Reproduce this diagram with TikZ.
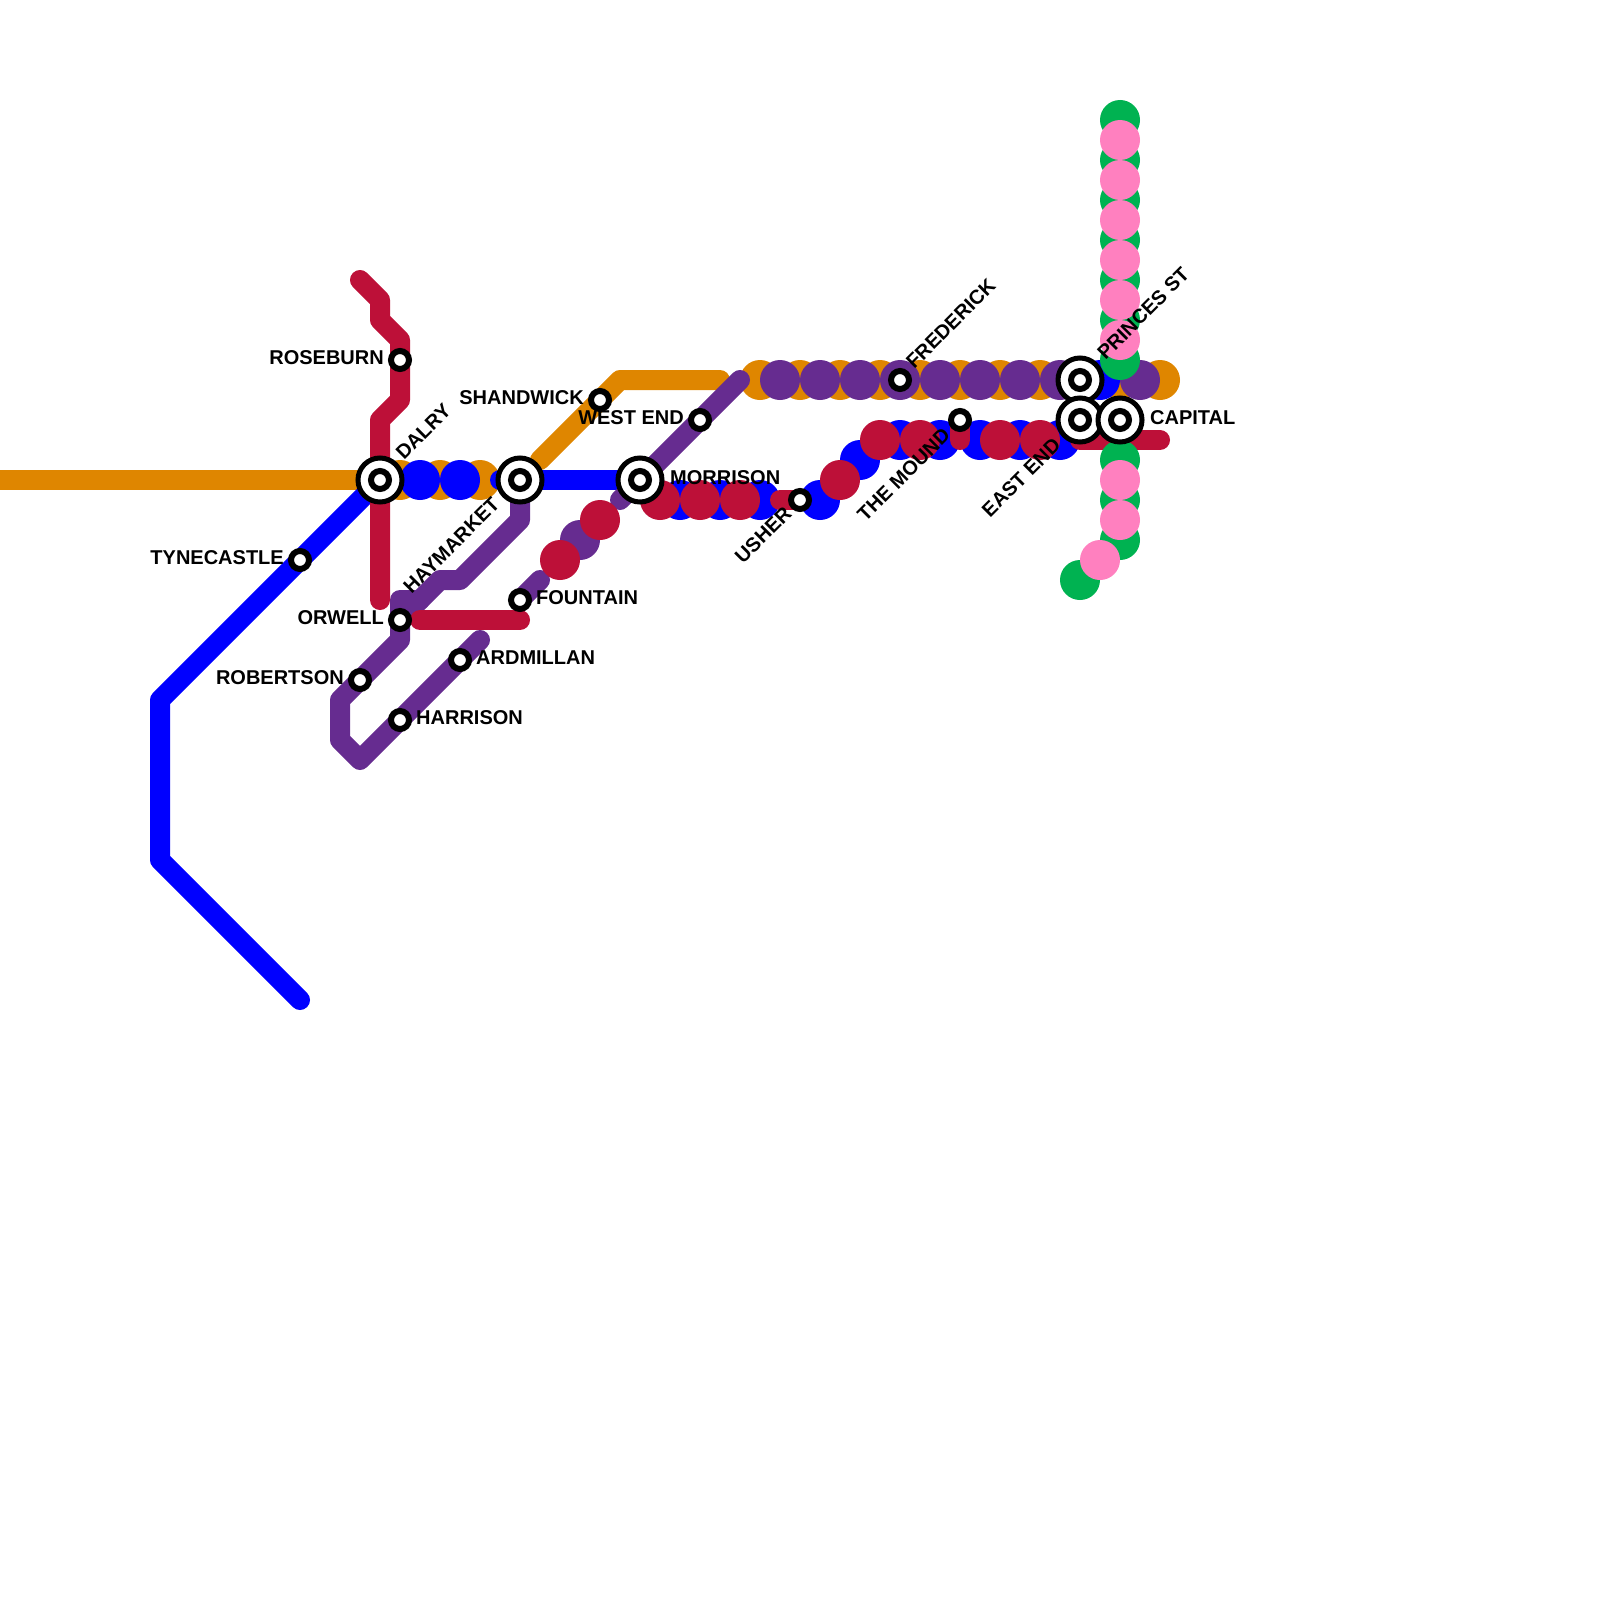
\documentclass[tikz,border=0pt]{standalone}
\usepackage{fontspec}
\setmainfont{Liberation Sans}
\usetikzlibrary{calc}
\usetikzlibrary{backgrounds}
\definecolor{lineorange}{HTML}{DF8600}
\definecolor{lineblue}{HTML}{0000FF}
\definecolor{linepurple}{HTML}{662C90}
\definecolor{linered}{HTML}{BD1038}
\definecolor{linegreen}{HTML}{00B251}
\definecolor{linepink}{HTML}{FF80BF}
\tikzset{
  rail/.style={line width=20pt,line cap=round,line join=round},
  disc/.style={circle,inner sep=0pt,minimum size=40pt,fill=#1},
  stop/.style={circle,draw=black,fill=white,line width=6pt,inner sep=0pt,minimum size=18pt},
  hub/.style={circle,draw=black,fill=white,line width=5pt,inner sep=0pt,minimum size=44pt},
  stopname/.style={inner sep=0pt,font=\fontsize{20}{22}\selectfont\bfseries},
}
\begin{document}
\begin{tikzpicture}
\def\u{20pt}
\useasboundingbox (0, 0) rectangle (80*\u, -80*\u);

\node[hub] (dalry) at (19*\u, -24*\u) {} node[stop] (dalryc) at (dalry) {};
\node[hub] (haymarket) at (26*\u, -24*\u) {} node[stop] (haymarketc) at (haymarket) {};
\node[hub] (morrison) at (32*\u, -24*\u) {} node[stop] (morrisonc) at (morrison) {};
\node[hub] (princes) at (54*\u, -19*\u) {} node[stop] (princesc) at (princes) {};
\node[hub] (eastend) at (54*\u, -21*\u) {} node[stop] (eastendc) at (eastend) {};
\node[hub] (capital) at (56*\u, -21*\u) {} node[stop] (capitalc) at (capital) {};
\node[stop] (roseburn) at (20*\u, -18*\u) {};
\node[stop] (tynecastle) at (15*\u, -28*\u) {};
\node[stop] (orwell) at (20*\u, -31*\u) {};
\node[stop] (robertson) at (18*\u, -34*\u) {};
\node[stop] (harrison) at (20*\u, -36*\u) {};
\node[stop] (ardmillan) at (23*\u, -33*\u) {};
\node[stop] (fountain) at (26*\u, -30*\u) {};
\node[stop] (shandwick) at (30*\u, -20*\u) {};
\node[stop] (westend) at (35*\u, -21*\u) {};
\node[stop] (usher) at (40*\u, -25*\u) {};
\node[stop] (frederick) at (45*\u, -19*\u) {};
\node[stop] (mound) at (48*\u, -21*\u) {};

\node[stopname,anchor=east] (roseburnl) at ($(roseburn) + (-0.8*\u, 0.13*\u)$) {ROSEBURN};
\node[stopname,anchor=east] (tynecastlel) at ($(tynecastle) + (-0.8*\u, 0.13*\u)$) {TYNECASTLE};
\node[stopname,anchor=east] (orwelll) at ($(orwell) + (-0.8*\u, 0.13*\u)$) {ORWELL};
\node[stopname,anchor=east] (robertsonl) at ($(robertson) + (-0.8*\u, 0.13*\u)$) {ROBERTSON};
\node[stopname,anchor=east] (shandwickl) at ($(shandwick) + (-0.8*\u, 0.13*\u)$) {SHANDWICK};
\node[stopname,anchor=east] (westendl) at ($(westend) + (-0.8*\u, 0.13*\u)$) {WEST END};
\node[stopname,anchor=west] (harrisonl) at ($(harrison) + (0.8*\u, 0.13*\u)$) {HARRISON};
\node[stopname,anchor=west] (ardmillanl) at ($(ardmillan) + (0.8*\u, 0.13*\u)$) {ARDMILLAN};
\node[stopname,anchor=west] (fountainl) at ($(fountain) + (0.8*\u, 0.13*\u)$) {FOUNTAIN};
\node[stopname,anchor=west] (morrisonl) at ($(morrison) + (1.5*\u, 0.13*\u)$) {MORRISON};
\node[stopname,anchor=west] (capitall) at ($(capital) + (1.5*\u, 0.13*\u)$) {CAPITAL};
\node[stopname,anchor=west,rotate=45] (dalryl) at ($(dalry) + (0.95*\u, 1.2*\u)$) {DALRY};
\node[stopname,anchor=west,rotate=45] (princesl) at ($(princes) + (1.03*\u, 1.2*\u)$) {PRINCES ST};
\node[stopname,anchor=west,rotate=45] (frederickl) at ($(frederick) + (0.47*\u, 0.75*\u)$) {FREDERICK};
\node[stopname,anchor=east,rotate=45] (haymarketl) at ($(haymarket) + (-1.2*\u, -1.03*\u)$) {HAYMARKET};
\node[stopname,anchor=east,rotate=45] (eastendl) at ($(eastend) + (-1.15*\u, -1.08*\u)$) {EAST END};
\node[stopname,anchor=east,rotate=45] (ushertext) at ($(usher) + (-0.6*\u, -0.5*\u)$) {USHER};
\node[stopname,anchor=east,rotate=45] (moundl) at ($(mound) + (-0.67*\u, -0.58*\u)$) {THE MOUND};

\begin{scope}[on background layer]
% orange
\coordinate (o0) at (0, -24*\u);
\coordinate (o1) at (27*\u, -23*\u);
\coordinate (o2) at (31*\u, -19*\u);
\coordinate (o3) at (36*\u, -19*\u);
\draw[rail,draw=lineorange] (o0) -- (dalry.center);
\draw[rail,draw=lineorange] (o1) -- (shandwick.center) -- (o2) -- (o3);
\node[disc=lineorange] (d20) at (20*\u, -24*\u) {} node[disc=lineorange] (d22) at (22*\u, -24*\u) {} node[disc=lineorange] (d24) at (24*\u, -24*\u) {};
\node[disc=lineorange] (d38) at (38*\u, -19*\u) {} node[disc=lineorange] (d40) at (40*\u, -19*\u) {} node[disc=lineorange] (d42) at (42*\u, -19*\u) {} node[disc=lineorange] (d44) at (44*\u, -19*\u) {};
\node[disc=lineorange] (d46) at (46*\u, -19*\u) {} node[disc=lineorange] (d48) at (48*\u, -19*\u) {} node[disc=lineorange] (d50) at (50*\u, -19*\u) {} node[disc=lineorange] (d52) at (52*\u, -19*\u) {};
\node[disc=lineorange] (d56) at (56*\u, -19*\u) {} node[disc=lineorange] (d58) at (58*\u, -19*\u) {};
% blue
\coordinate (b0) at (15*\u, -50*\u);
\coordinate (b1) at (8*\u, -43*\u);
\coordinate (b2) at (8*\u, -35*\u);
\coordinate (b3) at (25*\u, -24*\u);
\draw[rail,draw=lineblue] (b0) -- (b1) -- (b2) -- (tynecastle.center) -- (dalry.center);
\draw[rail,draw=lineblue] (b3) -- (morrison.center);
\node[disc=lineblue] (e21) at (21*\u, -24*\u) {} node[disc=lineblue] (e23) at (23*\u, -24*\u) {};
\node[disc=lineblue] (e34) at (34*\u, -25*\u) {} node[disc=lineblue] (e36) at (36*\u, -25*\u) {} node[disc=lineblue] (e38) at (38*\u, -25*\u) {} node[disc=lineblue] (e41) at (41*\u, -25*\u) {};
\node[disc=lineblue] (e43) at (43*\u, -23*\u) {} node[disc=lineblue] (e45) at (45*\u, -22*\u) {} node[disc=lineblue] (e47) at (47*\u, -22*\u) {};
\node[disc=lineblue] (e49) at (49*\u, -22*\u) {} node[disc=lineblue] (e51) at (51*\u, -22*\u) {} node[disc=lineblue] (e53) at (53*\u, -22*\u) {} node[disc=lineblue] (e55) at (55*\u, -19*\u) {};
% purple
\coordinate (p1) at (26*\u, -26*\u);
\coordinate (p2) at (23*\u, -29*\u);
\coordinate (p3) at (22*\u, -29*\u);
\coordinate (p4) at (21*\u, -30*\u);
\coordinate (p5) at (20*\u, -30*\u);
\coordinate (p6) at (20*\u, -32*\u);
\coordinate (p7) at (17*\u, -35*\u);
\coordinate (p8) at (17*\u, -37*\u);
\coordinate (p9) at (18*\u, -38*\u);
\coordinate (p10) at (24*\u, -32*\u);
\coordinate (p11) at (27*\u, -29*\u);
\coordinate (p12) at (31*\u, -25*\u);
\coordinate (p13) at (37*\u, -19*\u);
\draw[rail,draw=linepurple] (haymarket.center) -- (p1) -- (p2) -- (p3) -- (orwell.center) -- (p6) -- (robertson.center) -- (p7) -- (p8) -- (p9) -- (harrison.center) -- (ardmillan.center) -- (p10);
\draw[rail,draw=linepurple] (p4) -- (p5) -- (orwell.center);
\draw[rail,draw=linepurple] (fountain.center) -- (p11);
\draw[rail,draw=linepurple] (p12) -- (morrison.center) -- (westend.center) -- (p13);
\node[disc=linepurple] (f29) at (29*\u, -27*\u) {};
\node[disc=linepurple] (f39) at (39*\u, -19*\u) {} node[disc=linepurple] (f41) at (41*\u, -19*\u) {} node[disc=linepurple] (f43) at (43*\u, -19*\u) {} node[disc=linepurple] (f45) at (45*\u, -19*\u) {};
\node[disc=linepurple] (f47) at (47*\u, -19*\u) {} node[disc=linepurple] (f49) at (49*\u, -19*\u) {} node[disc=linepurple] (f51) at (51*\u, -19*\u) {} node[disc=linepurple] (f53) at (53*\u, -19*\u) {} node[disc=linepurple] (f57) at (57*\u, -19*\u) {};
% red
\coordinate (r0) at (18*\u, -14*\u);
\coordinate (r1) at (19*\u, -15*\u);
\coordinate (r2) at (19*\u, -16*\u);
\coordinate (r3) at (20*\u, -17*\u);
\coordinate (r4) at (20*\u, -20*\u);
\coordinate (r5) at (19*\u, -21*\u);
\coordinate (r6) at (19*\u, -30*\u);
\coordinate (r7) at (21*\u, -31*\u);
\coordinate (r8) at (26*\u, -31*\u);
\coordinate (r9) at (39*\u, -25*\u);
\coordinate (r10) at (48*\u, -22*\u);
\coordinate (r11) at (54*\u, -22*\u);
\coordinate (r12) at (58*\u, -22*\u);
\draw[rail,draw=linered] (r0) -- (r1) -- (r2) -- (r3) -- (roseburn.center) -- (r4) -- (r5) -- (dalry.center) -- (r6);
\draw[rail,draw=linered] (r7) -- (r8);
\draw[rail,draw=linered] (r9) -- (usher.center);
\draw[rail,draw=linered] (r10) -- (mound.center);
\draw[rail,draw=linered] (r11) -- (r12);
\node[disc=linered] (g28) at (28*\u, -28*\u) {} node[disc=linered] (g30) at (30*\u, -26*\u) {};
\node[disc=linered] (g33) at (33*\u, -25*\u) {} node[disc=linered] (g35) at (35*\u, -25*\u) {} node[disc=linered] (g37) at (37*\u, -25*\u) {} node[disc=linered] (g42) at (42*\u, -24*\u) {};
\node[disc=linered] (g44) at (44*\u, -22*\u) {} node[disc=linered] (g46) at (46*\u, -22*\u) {} node[disc=linered] (g50) at (50*\u, -22*\u) {} node[disc=linered] (g52) at (52*\u, -22*\u) {};
% green
\node[disc=linegreen] (h6) at (56*\u, -6*\u) {} node[disc=linegreen] (h8) at (56*\u, -8*\u) {} node[disc=linegreen] (h10) at (56*\u, -10*\u) {} node[disc=linegreen] (h12) at (56*\u, -12*\u) {};
\node[disc=linegreen] (h14) at (56*\u, -14*\u) {} node[disc=linegreen] (h16) at (56*\u, -16*\u) {} node[disc=linegreen] (h18) at (56*\u, -18*\u) {};
\node[disc=linegreen] (h23) at (56*\u, -23*\u) {} node[disc=linegreen] (h25) at (56*\u, -25*\u) {} node[disc=linegreen] (h27) at (56*\u, -27*\u) {} node[disc=linegreen] (h29) at (54*\u, -29*\u) {};
% pink
\node[disc=linepink] (k7) at (56*\u, -7*\u) {} node[disc=linepink] (k9) at (56*\u, -9*\u) {} node[disc=linepink] (k11) at (56*\u, -11*\u) {} node[disc=linepink] (k13) at (56*\u, -13*\u) {};
\node[disc=linepink] (k15) at (56*\u, -15*\u) {} node[disc=linepink] (k17) at (56*\u, -17*\u) {};
\node[disc=linepink] (k24) at (56*\u, -24*\u) {} node[disc=linepink] (k26) at (56*\u, -26*\u) {} node[disc=linepink] (k28) at (55*\u, -28*\u) {};
\end{scope}
\end{tikzpicture}
\end{document}
